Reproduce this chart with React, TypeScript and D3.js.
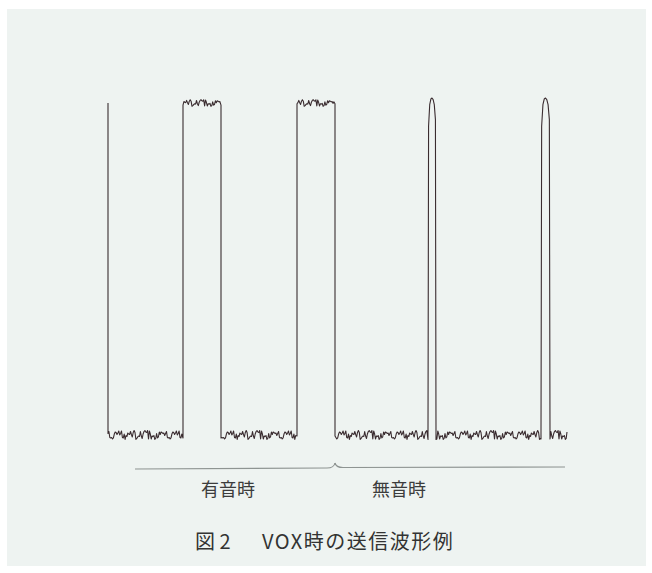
import React, { useEffect, useRef } from "react";
import * as d3 from "d3";

// edge times of the VOX transmit envelope (ms-ish units), and the level held after each edge
const edgeTimes = [0, 75, 113, 189, 227, 320, 328, 433, 442, 459];
const segmentLevels = [0, 1, 0, 1, 0, 1, 0, 1, 0];
// hand-read noise pattern (relative units) riding on the flat parts
const noise = [
  0.3, -0.6, 0.8, -0.2, 0.5, -0.9, 0.1, 0.7, -0.4, 0.2, -0.7, 0.9, -0.1, 0.4, -0.5, 0.6,
  -0.8, 0.2, 0.5, -0.3, 0.8, -0.6, 0.1, -0.2, 0.7, -0.9, 0.4, 0.0, -0.5, 0.6, -0.3, 0.9,
  -0.7, 0.2, 0.3, -0.8, 0.5, -0.1, 0.6, -0.4, 0.1, 0.8, -0.6, 0.3, -0.9, 0.5, -0.2, 0.7,
  -0.5, 0.2, 0.4, -0.7, 0.9, -0.3, 0.1, -0.6, 0.6, -0.1, 0.3, -0.8, 0.7, -0.4, 0.2, 0.5,
];
// rounded top of the short "tail" pulses
const pulseShape = [0.93, 0.995, 1.012, 1.015, 1.01, 0.995, 0.95];

const braceRanges = [
  [27, 227],
  [227, 457],
];
const braceLabels = ["有音時", "無音時"];
const labelTimes = [120, 291];
const captionParts = ["図 2", "VOX時の送信波形例"];

export default function App() {
  const ref = useRef<SVGSVGElement>(null);

  useEffect(() => {
    const svg = d3.select(ref.current);
    svg.selectAll("*").remove();

    const width = 652,
      height = 573;

    const x = d3.scaleLinear().domain([0, 459]).range([108, 567]);
    const y = d3.scaleLinear().domain([0, 1]).range([435, 103]);

    svg.attr("width", width).attr("height", height);

    svg
      .append("rect")
      .attr("width", width)
      .attr("height", height)
      .attr("fill", "#ffffff");
    svg
      .append("rect")
      .attr("x", 7)
      .attr("y", 9)
      .attr("width", 639)
      .attr("height", 557)
      .attr("fill", "#eef3f1");

    // build the trace
    const pts: [number, number][] = [[0, 1]];
    let k = 0;
    for (let i = 0; i < segmentLevels.length; i++) {
      const t0 = edgeTimes[i],
        t1 = edgeTimes[i + 1];
      const lvl = segmentLevels[i];
      if (lvl === 1 && t1 - t0 < 12) {
        pts.push([t0, 0]);
        pulseShape.forEach((v, j) => {
          pts.push([t0 + ((j + 0.5) * (t1 - t0)) / pulseShape.length, v]);
        });
        pts.push([t1, 0]);
        continue;
      }
      const amp = lvl === 1 ? 0.011 : 0.015;
      pts.push([t0, lvl + noise[k % noise.length] * amp]);
      for (let t = t0 + 0.9; t < t1 - 0.4; t += 0.9) {
        k += 1;
        pts.push([t, lvl + noise[(k * 7) % noise.length] * amp]);
      }
      k += 3;
      pts.push([t1, lvl + noise[k % noise.length] * amp]);
    }

    const line = d3
      .line<[number, number]>()
      .x((d) => x(d[0]))
      .y((d) => y(d[1]));

    svg
      .append("path")
      .attr("d", line(pts))
      .attr("fill", "none")
      .attr("stroke", "#3a2c30")
      .attr("stroke-width", 1.1)
      .attr("stroke-linejoin", "round");

    // braces
    const by = 468;
    braceRanges.forEach(([a, b], i) => {
      const x1 = x(a),
        x2 = x(b);
      let d = "";
      if (i === 0) {
        d = `M${x1},${by + 1} L${x2 - 8},${by} Q${x2 - 1},${by} ${x2},${by - 5}`;
      } else {
        d = `M${x1},${by - 5} Q${x1 + 1},${by - 0.5} ${x1 + 8},${by - 0.5} L${x2},${by - 1}`;
      }
      svg
        .append("path")
        .attr("d", d)
        .attr("fill", "none")
        .attr("stroke", "#8e9492")
        .attr("stroke-width", 1.2);
    });

    const font = "'Noto Sans CJK JP', 'Noto Sans', sans-serif";
    braceLabels.forEach((s, i) => {
      svg
        .append("text")
        .attr("x", x(labelTimes[i]))
        .attr("y", 496)
        .attr("text-anchor", "middle")
        .attr("font-family", font)
        .attr("font-size", 18)
        .attr("fill", "#3c3c3c")
        .text(s);
    });

    svg
      .append("text")
      .attr("x", 195)
      .attr("y", 549)
      .attr("font-family", font)
      .attr("font-size", 20)
      .attr("fill", "#333")
      .text(captionParts[0]);
    svg
      .append("text")
      .attr("x", 262)
      .attr("y", 549)
      .attr("font-family", font)
      .attr("font-size", 20)
      .attr("letter-spacing", 1.5)
      .attr("fill", "#333")
      .text(captionParts[1]);
  }, []);

  return (
    <svg
      ref={ref}
      style={{ position: "absolute", left: 0, top: 0, display: "block" }}
    ></svg>
  );
}
